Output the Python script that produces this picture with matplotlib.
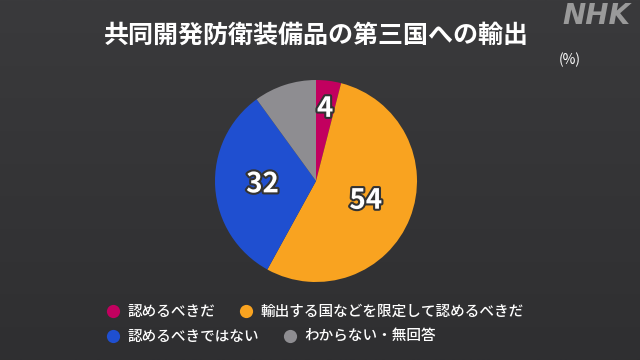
import numpy as np
import matplotlib.pyplot as plt
import matplotlib.patheffects as pe
from matplotlib.lines import Line2D
from matplotlib.colors import LinearSegmentedColormap

plt.rcParams['font.family'] = ['Noto Sans CJK JP', 'DejaVu Sans']

# Data
title = "共同開発防衛装備品の第三国への輸出"
categories = ["認めるべきだ", "輸出する国などを限定して認めるべきだ",
              "認めるべきではない", "わからない・無回答"]
values = [4, 54, 32, 10]
shown = [True, True, True, False]
colors = ["#c2005f", "#f9a320", "#1f4fd0", "#8e8d91"]

W, H = 640, 360
fig = plt.figure(figsize=(W / 100, H / 100), dpi=100)

# background with a slight vertical gradient
bg = fig.add_axes([0, 0, 1, 1], zorder=-10)
grad = np.linspace(0, 1, 256).reshape(-1, 1)
cmap = LinearSegmentedColormap.from_list("bg", ["#3a3a3c", "#2f2f31"])
bg.imshow(grad, aspect="auto", cmap=cmap, extent=[0, 1, 0, 1])
bg.axis("off")

# pie: centre (316, 181) px, radius 101 px
cx, cy, r = 316, 181, 101
ax = fig.add_axes([(cx - r) / W, (H - cy - r) / H, 2 * r / W, 2 * r / H])
wedges, _ = ax.pie(values, colors=colors, startangle=90, counterclock=False,
                   wedgeprops=dict(linewidth=0))
ax.set_xlim(-1, 1)
ax.set_ylim(-1, 1)
ax.set_aspect("equal")
ax.axis("off")

label_r = [0.72, 0.53, 0.53, 0.5]
for w, v, s, lr in zip(wedges, values, shown, label_r):
    if not s:
        continue
    ang = np.deg2rad((w.theta1 + w.theta2) / 2)
    ax.text(lr * np.cos(ang), lr * np.sin(ang), str(v), ha="center", va="center",
            fontsize=20, fontweight="bold", color="white",
            path_effects=[pe.withStroke(linewidth=3, foreground="#333333")])

fig.text(316 / W, 1 - 36 / H, title, ha="center", va="center",
         fontsize=18, fontweight="bold", color="white")
fig.text(596 / W, 1 - 16 / H, "NHK", ha="center", va="center", fontsize=20,
         fontweight="bold", fontstyle="italic", color="#9a9a9a", family="DejaVu Sans")
fig.text(570 / W, 1 - 60 / H, "(%)", ha="center", va="center",
         fontsize=10, color="white")

# legend: two independent rows
rows = [[0, 1], [2, 3]]
row_y = [312, 337]
for idx, yy in zip(rows, row_y):
    handles = [Line2D([], [], marker="o", linestyle="none", markersize=9.5,
                      markerfacecolor=colors[i], markeredgewidth=0) for i in idx]
    fig.legend(handles, [categories[i] for i in idx], ncol=2, frameon=False,
               loc="center left", bbox_to_anchor=(106 / W, 1 - yy / H),
               fontsize=10.5, labelcolor="white", handlelength=1.0,
               handletextpad=0.5, columnspacing=1.6, borderpad=0, borderaxespad=0,
               prop=dict(size=10.5, weight="medium"))

fig.savefig("out.png", dpi=100, facecolor="#333335")
